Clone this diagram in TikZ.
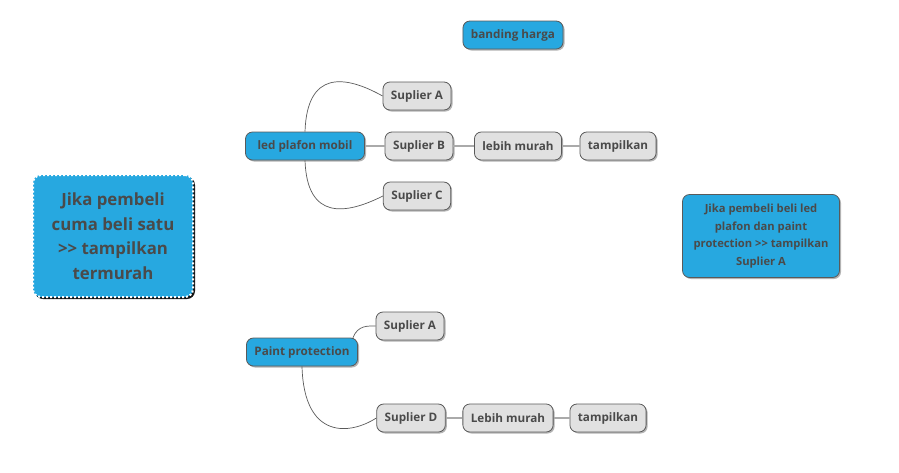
\documentclass[tikz,border=0pt]{standalone}
\usepackage{fontspec}
\setmainfont{Open Sans}
\usetikzlibrary{shadows}
\definecolor{mapblue}{HTML}{27A8E0}
\definecolor{mapgray}{HTML}{E1E1E1}
\definecolor{mapedge}{HTML}{5A5A5A}
\definecolor{maptext}{HTML}{4A4A4A}
\definecolor{maplink}{HTML}{AAAAAA}

\begin{document}
\begin{tikzpicture}[x=1pt, y=-1pt, font=\bfseries\fontsize{11.7}{13}\selectfont, text=maptext,
	topic/.style={draw=mapedge, line width=0.8pt, rounded corners=7pt, minimum height=28pt,
		inner xsep=8pt, drop shadow={shadow xshift=1.5pt, shadow yshift=-1.5pt, opacity=0.6}},
	bluebox/.style={topic, fill=mapblue},
	graybox/.style={topic, fill=mapgray},
	straight/.style={draw=maplink, line width=1.6pt},
	curved/.style={draw=mapedge, line width=0.7pt}]
	\useasboundingbox (0,0) rectangle (899,472);
	% notes
	\node[bluebox, minimum width=97pt] (harga) at (513,35) {banding harga};
	\node[bluebox, draw=white, line width=2pt, dash pattern=on 2pt off 2pt, rounded corners=8pt,
		minimum width=160pt, minimum height=122pt, align=center,
		font=\bfseries\fontsize{16.8}{24.5}\selectfont,
		drop shadow={shadow xshift=2pt, shadow yshift=-2pt, opacity=0.9, fill=black}] (murah)
		at (113,236) {Jika pembeli\\cuma beli satu\\>{}> tampilkan\\termurah};
	\node[bluebox, minimum width=157pt, minimum height=83pt, align=center,
		font=\bfseries\fontsize{11.2}{17.5}\selectfont] (dua)
		at (761,236) {Jika pembeli beli led\\plafon dan paint\\protection >{}> tampilkan\\Suplier A};
	% led plafon mobil
	\node[bluebox, minimum width=119pt] (led) at (305,146) {led plafon mobil};
	\node[graybox, minimum width=64pt] (ledA) at (417,96) {Suplier A};
	\node[graybox, minimum width=68pt] (ledB) at (419,146) {Suplier B};
	\node[graybox, minimum width=64pt] (ledC) at (417,196) {Suplier C};
	\node[graybox, minimum width=85pt] (ledM) at (518,146) {lebih murah};
	\node[graybox, minimum width=73pt] (ledT) at (618,146) {tampilkan};
	\draw[straight] (led) -- (ledB);
	\draw[straight] (ledB) -- (ledM);
	\draw[straight] (ledM) -- (ledT);
	\draw[curved] (led.north) .. controls (307,70) and (345,75) .. (ledA.west);
	\draw[curved] (led.south) .. controls (307,220) and (345,215) .. (ledC.west);
	% paint protection
	\node[bluebox, minimum width=110pt] (paint) at (302,352) {Paint protection};
	\node[graybox, minimum width=63pt] (paintA) at (410,326) {Suplier A};
	\node[graybox, minimum width=66pt] (paintD) at (411,418) {Suplier D};
	\node[graybox, minimum width=89pt] (paintM) at (508,418) {Lebih murah};
	\node[graybox, minimum width=73pt] (paintT) at (608,418) {tampilkan};
	\draw[straight] (paintD) -- (paintM);
	\draw[straight] (paintM) -- (paintT);
	\draw[curved] (paint.north east) ++(-5,0) .. controls (358,325) and (368,326) .. (paintA.west);
	\draw[curved] (paint.south) .. controls (304,440) and (350,435) .. (paintD.west);
\end{tikzpicture}
\end{document}
